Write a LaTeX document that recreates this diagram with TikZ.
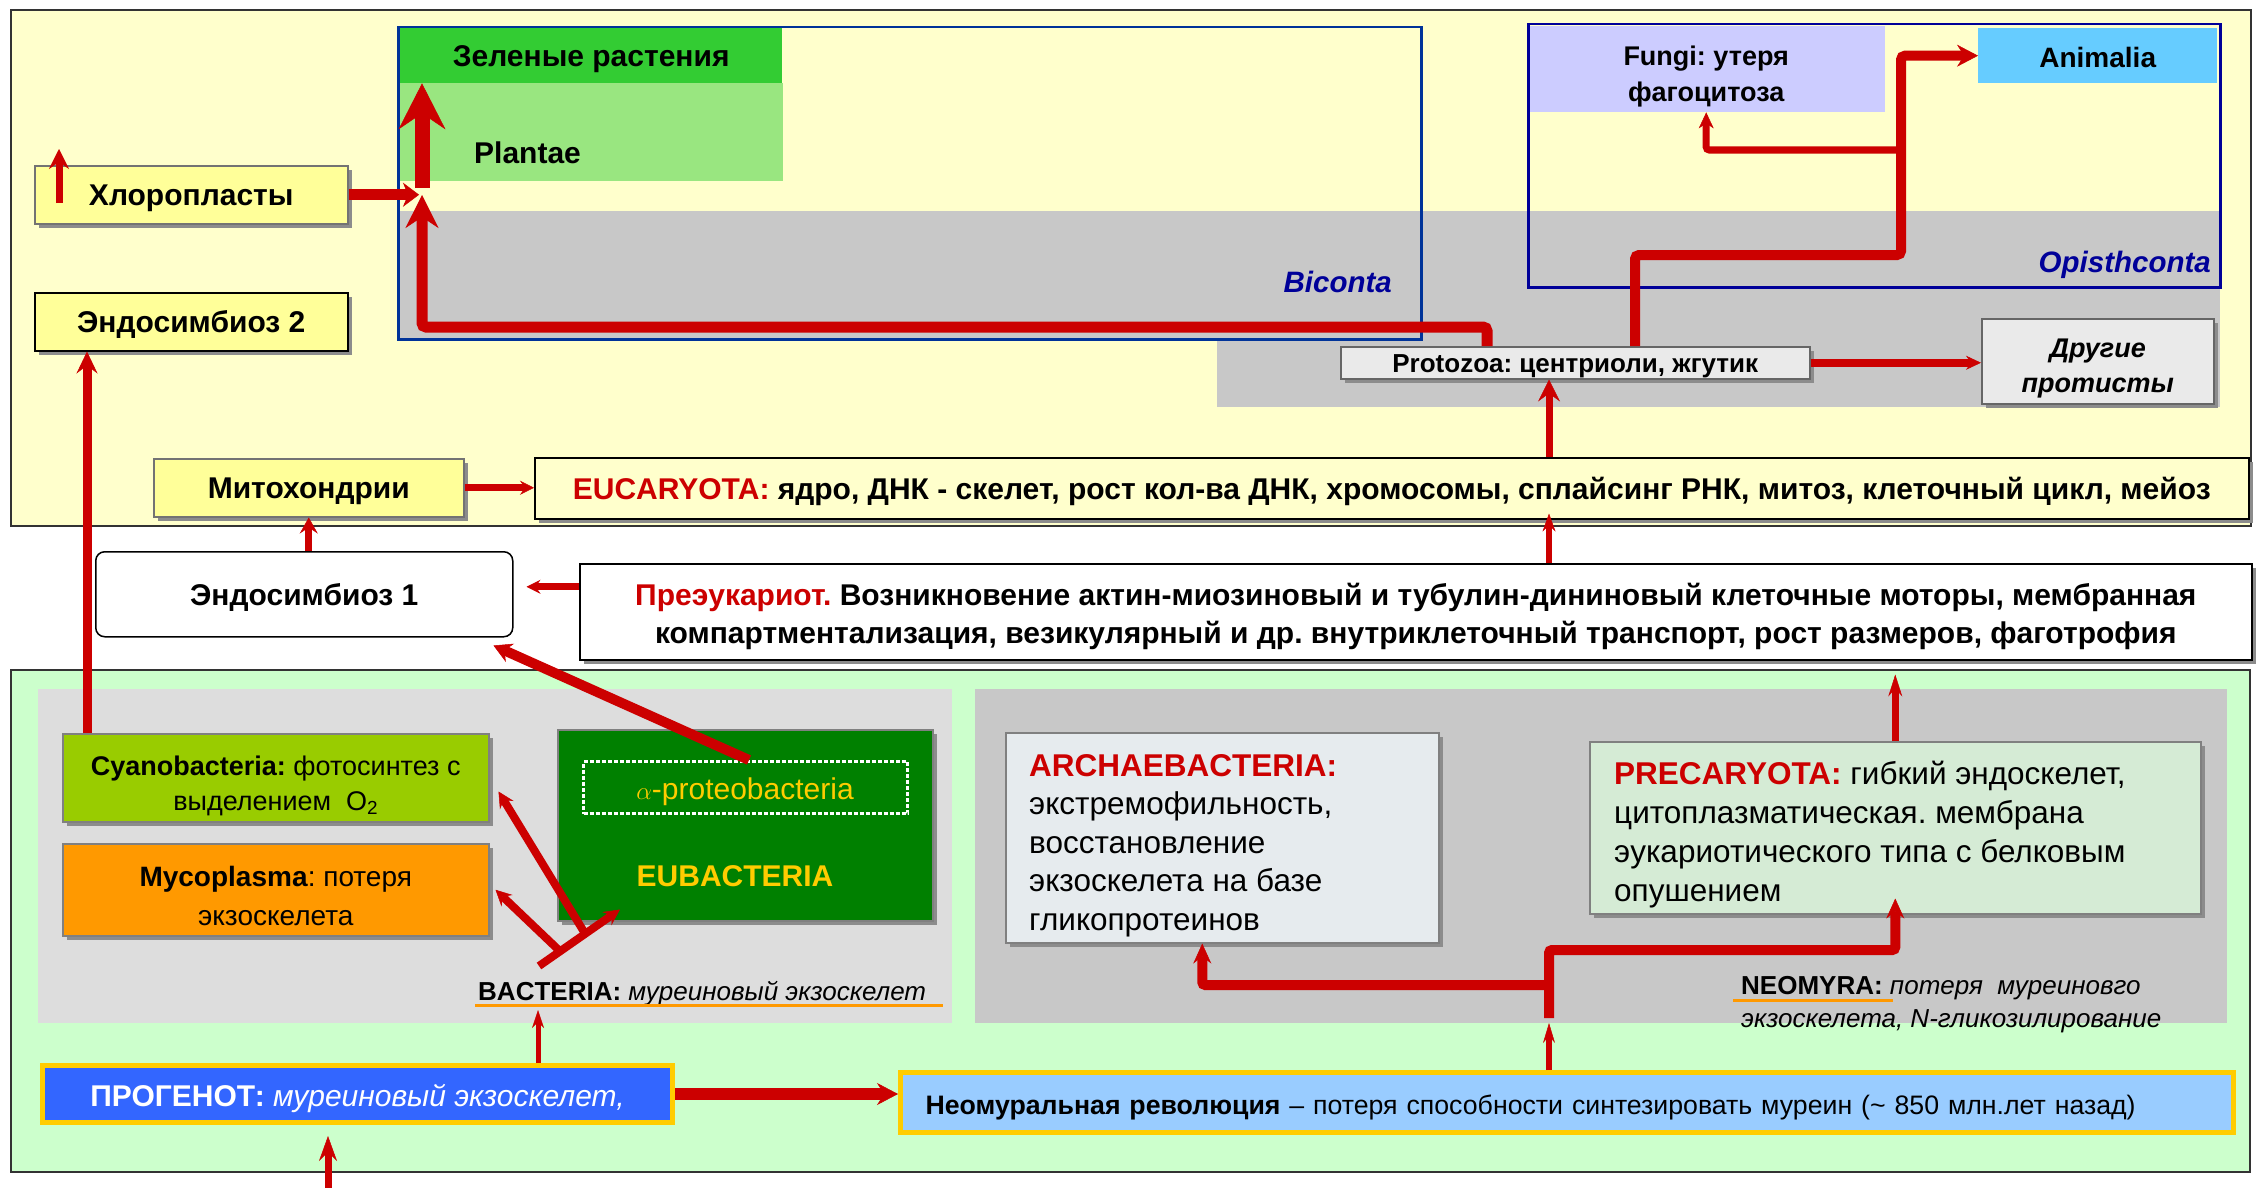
\documentclass[tikz,border=0pt]{standalone}
\usepackage{fontspec}
\setmainfont{Liberation Sans}
\usetikzlibrary{arrows.meta,shadows,calc}
\frenchspacing

\definecolor{panelY}{HTML}{FFFFCC}
\definecolor{panelG}{HTML}{CCFFCC}
\definecolor{arrred}{HTML}{CC0000}
\definecolor{greyA}{HTML}{C8C8C8}
\definecolor{greyB}{HTML}{DDDDDD}
\definecolor{boxY}{HTML}{FFFF99}
\definecolor{bicblue}{HTML}{003399}
\definecolor{opiblue}{HTML}{000099}
\definecolor{plantG}{HTML}{33CC33}
\definecolor{plantL}{HTML}{99E680}
\definecolor{fungiC}{HTML}{CCCCFF}
\definecolor{animC}{HTML}{66CCFF}
\definecolor{protoC}{HTML}{EAEAEA}
\definecolor{cyanoC}{HTML}{99CC00}
\definecolor{mycoC}{HTML}{FF9900}
\definecolor{eubC}{HTML}{008000}
\definecolor{eubT}{HTML}{FFCC00}
\definecolor{archC}{HTML}{E6EBEE}
\definecolor{precC}{HTML}{D5EBD5}
\definecolor{progC}{HTML}{3366FF}
\definecolor{neoC}{HTML}{99CCFF}
\definecolor{goldB}{HTML}{FFCC00}
\definecolor{labBlue}{HTML}{000099}
\definecolor{orLine}{HTML}{FF9900}

\newcommand{\fsz}[2]{\fontsize{#1}{#2}\selectfont}

\begin{document}
\begin{tikzpicture}[x=1pt,y=-1pt,
  cell/.style={inner sep=0pt, anchor=north west, font=\fsz{30}{36}, align=center},
  box/.style={cell, draw=#1, line width=1.5pt},
  box/.default=black!55,
  shd/.style={drop shadow={shadow xshift=4pt,shadow yshift=-4pt,fill=black!45,opacity=1}},
  capc/.style={text height=#1pt, text depth=0pt},
  tag/.style={inner sep=0pt, font=\fsz{30}{36}},
  rarr/.style={draw=arrred, line width=#1pt},
  hd/.style n args={3}{-{Stealth[length=#1pt,width=#2pt,inset=#3pt,line width=0.5pt]}},
  panel/.style={draw=black!80, line width=2pt}
]
\useasboundingbox (0,0) rectangle (2259,1188);
\fill[white] (0,0) rectangle (2259,1188);

% panels
\draw[panel, fill=panelY] (11,10) rectangle (2251,526);
\draw[panel, fill=panelG] (11,670) rectangle (2250,1172);

% grey bands
\fill[greyA] (397,211) rectangle (2220,338);
\fill[greyA] (1217,338) rectangle (2220,407);
\fill[greyB] (38,689) rectangle (952,1023);
\fill[greyA] (975,689) rectangle (2227,1023);

% ---- eukaryote level ----
\node[cell, capc=21.5, fill=plantG, minimum width=382, minimum height=55, font=\fsz{30}{36}\bfseries] (green) at (400,28) {Зеленые растения};
\node[cell, fill=plantL, minimum width=383, minimum height=98] (plantae) at (400,83) {};
\node[tag, anchor=west, font=\fsz{30}{36}\bfseries] (plantaeT) at (474,153) {Plantae};

\node[cell, fill=fungiC, minimum width=358, minimum height=86] (fungi) at (1527,26) {};
\node[tag, align=center, font=\fsz{27}{36}\bfseries] (fungiT) at ([yshift=-7pt]fungi.center) {Fungi: утеря\\фагоцитоза};
\node[cell, capc=23, fill=animC, minimum width=239, minimum height=55, font=\fsz{28}{34}\bfseries] (animal) at (1978,28) {Animalia};

\node[cell, draw=bicblue, line width=2.5pt, minimum width=1023, minimum height=312] (bic) at (397,26) {};
\node[cell, draw=opiblue, line width=2.5pt, minimum width=692, minimum height=263] (opi) at (1527,23) {};
\node[tag, anchor=east, text=labBlue, font=\fsz{29.5}{36}\bfseries\itshape] (bicT) at (1392,282) {Biconta};
\node[tag, anchor=east, text=labBlue, font=\fsz{29.5}{36}\bfseries\itshape] (opiT) at (2211,265) {Opisthconta};

\node[box, shd, capc=21.5, fill=boxY, minimum width=313, minimum height=58, font=\fsz{30}{36}\bfseries] (chl) at (34,165) {Хлоропласты};
\node[box=black, shd, capc=21.5, fill=boxY, minimum width=313, minimum height=58, font=\fsz{30}{36}\bfseries] (endoB) at (34,292) {Эндосимбиоз 2};

\node[box=black!60, shd, capc=18.6, fill=protoC, minimum width=469, minimum height=32, font=\fsz{26}{30}\bfseries] (proto) at (1340,346) {Protozoa: центриоли, жгутик};
\node[box=black!60, shd, fill=protoC, minimum width=232, minimum height=85] (other) at (1981,318) {};
\node[tag, align=center, font=\fsz{27}{35}\bfseries\itshape] (otherT) at ([yshift=-7pt]other.center) {Другие\\протисты};

\node[box, shd, capc=21.5, fill=boxY, minimum width=310, minimum height=58, font=\fsz{30}{36}\bfseries] (mito) at (153,458) {Митохондрии};
\node[box=black, shd, capc=21.5, fill=panelY, minimum width=1714, minimum height=61, font=\fsz{30}{36}\bfseries] (euc) at (534,457) {\textcolor{arrred}{EUCARYOTA:} ядро, ДНК - скелет, рост кол-ва ДНК, хромосомы, сплайсинг РНК, митоз, клеточный цикл, мейоз};

% ---- transition level ----
\node[box=black, capc=21.5, fill=white, rounded corners=9pt, minimum width=417, minimum height=85, font=\fsz{30}{36}\bfseries] (endoA) at (95,551) {Эндосимбиоз 1};
\node[box=black, shd, fill=white, minimum width=1672, minimum height=96] (pre) at (579,563) {};
\node[tag, align=center, font=\fsz{30}{38}\bfseries] (preT) at ([yshift=-5pt]pre.center) {\textcolor{arrred}{Преэукариот.} Возникновение актин-миозиновый и тубулин-дининовый клеточные моторы, мембранная\\компартментализация, везикулярный и др. внутриклеточный транспорт, рост размеров, фаготрофия};

% ---- prokaryote level ----
\node[box=black!50, shd, fill=cyanoC, minimum width=426, minimum height=88] (cyano) at (62,733) {};
\node[tag, align=center, font=\fsz{27}{35}] (cyanoT) at ([yshift=-8pt]cyano.center) {\textbf{Cyanobacteria:} фотосинтез с\\выделением\ \ O\textsubscript{2}};
\node[box=black!50, shd, fill=mycoC, minimum width=426, minimum height=92] (myco) at (62,843) {};
\node[tag, align=center, font=\fsz{28}{39}] (mycoT) at ([yshift=-6pt]myco.center) {\textbf{Mycoplasma}: потеря\\экзоскелета};
\node[box=black!50, shd, fill=eubC, minimum width=375, minimum height=191] (eub) at (557,729) {};
\node[cell, draw=white, line width=3pt, dash pattern=on 4pt off 2pt, minimum width=324, minimum height=52] (alpha) at (582,760) {};
\node[tag, text=eubT, font=\fsz{30}{36}] (alphaT) at (745,792) {$\alpha$-proteobacteria};
\node[tag, text=eubT, font=\fsz{30}{36}\bfseries] (eubT) at (735,876) {EUBACTERIA};

\node[tag, anchor=west, font=\fsz{26}{30}] (bact) at (478,994) {\textbf{BACTERIA:} \textit{муреиновый экзоскелет}};
\coordinate (ulA) at (475,1005);
\coordinate (ulB) at (943,1005);
\draw[orLine, line width=3pt] (ulA) -- (ulB);

\node[box=black!50, shd, fill=archC, minimum width=433, minimum height=210] (arch) at (1005,732) {};
\node[tag, anchor=west, align=left, font=\fsz{31.5}{38.5}] (archT) at ([xshift=24pt,yshift=-8pt]arch.west) {\textcolor{arrred}{\textbf{ARCHAEBACTERIA:}}\\экстремофильность,\\восстановление\\экзоскелета на базе\\гликопротеинов};
\node[box=black!50, shd, fill=precC, minimum width=611, minimum height=172] (prec) at (1589,741) {};
\node[tag, anchor=west, align=left, font=\fsz{31.5}{39}] (precT) at ([xshift=25pt,yshift=-7pt]prec.west) {\textcolor{arrred}{\textbf{PRECARYOTA:}} гибкий эндоскелет,\\цитоплазматическая. мембрана\\эукариотического типа с белковым\\опушением};

\node[tag, anchor=north west, align=left, font=\fsz{26}{33}] (neomyra) at (1741,976) {\textbf{NEOMYRA:} \textit{потеря\ \ муреиновго}\\\textit{экзоскелета, N-гликозилирование}};
\coordinate (ulC) at (1733,1000);
\coordinate (ulD) at (1893,1000);
\draw[orLine, line width=3pt] (ulC) -- (ulD);

\node[cell, capc=25, draw=goldB, line width=5pt, fill=progC, minimum width=630, minimum height=57, text=white, font=\fsz{30}{36}] (prog) at (40,1063) {\textbf{ПРОГЕНОТ:} \textit{муреиновый экзоскелет,}};
\node[cell, capc=23, draw=goldB, line width=5pt, fill=neoC, minimum width=1333, minimum height=60, text width=1283, inner xsep=25, align=left, font=\fsz{26.7}{32}] (neo) at (898,1070) {\textbf{Неомуральная революция} – потеря способности синтезировать муреин (\textasciitilde{} 850 млн.лет назад)};

% ---- junction points ----
\coordinate (biJoin) at (422,193);
\coordinate (loopA) at ([xshift=147pt]proto.north west);
\coordinate (opiA) at ([xshift=295pt]proto.north west);
\coordinate (opiJoin) at (1901,150);
\coordinate (trunk) at (1549,0);
\coordinate (cyUp) at ([xshift=25pt]cyano.north west);
\coordinate (preL) at ([yshift=25pt]pre.west);
\coordinate (bfork) at (539,966);
\coordinate (eubTip) at ([shift={(63pt,12pt)}]eub.south west);
\coordinate (bf1) at ($(bfork)!0.26!(eubTip)$);
\coordinate (bf2) at ($(bfork)!0.57!(eubTip)$);
\coordinate (progUp) at ([xshift=498pt]prog.north west);
\coordinate (entry) at (328,1190);
\coordinate (nTip) at (1549,1023);
\coordinate (nBase) at (1549,1018);
\coordinate (nHigh) at (1549,950);
\coordinate (nLow) at (1549,985);

% ---- connectors ----
\draw[rarr=7, hd={20}{20}{7}] ([shift={(25pt,-38pt)}]chl.north west) -- ([shift={(25pt,16pt)}]chl.north west);
\draw[rarr=11, hd={16}{24}{5}, shorten >=3pt] (chl.east) -- (chl.east -| biJoin);
\draw[rarr=15, hd={46}{47}{16}] ([yshift=5pt]biJoin) -- (biJoin |- green.south);
\draw[rarr=11, rounded corners=4pt, hd={33}{33}{11}] (loopA) -- ++(0,-19) -| ([yshift=-2pt]biJoin);
\draw[rarr=10, rounded corners=4pt, hd={21}{22}{7}] (opiA) -- ++(0,-91) -| (opiJoin) |- (animal.west);
\draw[rarr=7, rounded corners=3pt, hd={16}{15}{5}] (opiJoin) -| (fungi.south);
\draw[rarr=8, hd={15}{14}{5}] (proto.east) -- (proto.east -| other.west);

\draw[rarr=9, hd={22}{21}{8}] (cyUp) -- (cyUp |- endoB.south);
\draw[rarr=7, hd={22}{22}{8}] (euc.north -| trunk) -- (proto.south -| trunk);
\draw[rarr=6, hd={18}{13}{6}] (pre.north -| trunk) -- ($(euc.south -| trunk)+(0,-6)$);
\draw[rarr=7, hd={14}{14}{5}] (mito.east) -- (mito.east -| euc.west);
\draw[rarr=7, hd={16}{18}{6}] (mito.south |- endoA.north) -- (mito.south);
\draw[rarr=7, hd={14}{14}{5}, shorten >=13pt] (preL) -- (preL -| endoA.east);
\draw[rarr=10, hd={18}{20}{6}] ([xshift=167pt]alpha.north west) -- ([shift={(-20pt,-8pt)}]endoA.south east);

\draw[rarr=8, hd={16}{16}{6}] (bfork) -- (eubTip);
\draw[rarr=8, hd={16}{16}{6}] (bf1) -- ([xshift=6pt]myco.east);
\draw[rarr=8, hd={16}{16}{6}] (bf2) -- ([shift={(9pt,31pt)}]cyano.south east);
\draw[rarr=5, hd={18}{12}{6}, shorten >=5pt] (progUp) -- (progUp |- ulA);
\draw[rarr=7, hd={25}{18}{9}, shorten >=11pt] (entry) -- (entry |- prog.south);
\draw[rarr=12, hd={21}{22}{7}] (prog.east) -- (prog.east -| neo.west);

\draw[rarr=6, hd={20}{12}{7}] (neo.north -| trunk) -- (nTip);
\draw[rarr=10, rounded corners=3pt, hd={20}{18}{7}] (nBase) -- (nHigh) -| ([yshift=16pt]prec.south);
\draw[rarr=10, rounded corners=3pt, hd={20}{18}{7}] (nLow) -| ([xshift=-20pt]arch.south);
\draw[rarr=7, hd={22}{14}{8}, shorten >=14pt] (prec.north) -- (prec.north |- pre.south);
\end{tikzpicture}
\end{document}
